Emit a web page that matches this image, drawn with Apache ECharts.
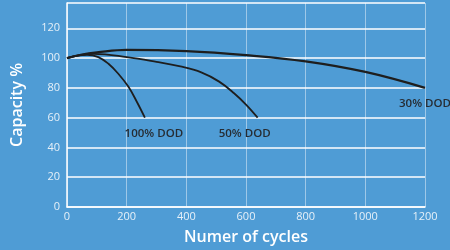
<!DOCTYPE html>
<html>
<head>
<meta charset="utf-8">
<script src="https://cdn.jsdelivr.net/npm/echarts@6/dist/echarts.min.js"></script>
<style>
  html, body { margin: 0; padding: 0; background: #4f9cd5; }
  #chart { width: 450px; height: 250px; }
</style>
</head>
<body>
<div id="chart"></div>
<script>
/************************        Capacity vs cycles by depth of discharge        **************************/
var cycles100 = [0, 35, 67, 105, 139, 172, 206, 234, 261];
var cap100    = [100, 101.7, 102.2, 100.7, 96.2, 89.5, 80.7, 70.7, 60];

var cycles50 = [0, 90, 200, 300, 380, 450, 510, 560, 600, 639];
var cap50    = [100, 102.8, 100.7, 97.5, 94.4, 90.4, 84.2, 76.4, 68.8, 60];

var cycles30 = [0, 50, 100, 200, 400, 600, 800, 1000, 1200];
var cap30    = [100, 102.4, 103.8, 105.5, 104.7, 102, 97.8, 90.7, 80];

var seriesNames = ['100% DOD', '50% DOD', '30% DOD'];
var xTicks = [0, 200, 400, 600, 800, 1000, 1200];

function buildData(xs, ys, name, offset) {
    var out = [];
    for (var i = 0; i < xs.length; i++) {
        var item = { value: [xs[i], ys[i]] };
        if (i === xs.length - 1) {
            item.label = {
                show: true,
                formatter: name,
                position: 'bottom',
                distance: 10,
                offset: offset,
                color: '#262c33',
                fontSize: 11.5,
                fontWeight: 600,
                fontFamily: 'Open Sans'
            };
        }
        out.push(item);
    }
    return out;
}

function curve(name, xs, ys, width, offset) {
    return {
        name: name,
        type: 'line',
        smooth: 0.4,
        symbol: 'circle',
        symbolSize: 0.1,
        showSymbol: true,
        lineStyle: { color: '#1e1e1e', width: width },
        data: buildData(xs, ys, name, offset)
    };
}

var dom = document.getElementById('chart');
var myChart = echarts.init(dom);
var option = {
    backgroundColor: '#4f9cd5',
    animation: false,
    grid: {
        left: 67,
        right: 25,
        top: 3,
        bottom: 40
    },
    xAxis: {
        type: 'value',
        min: 0,
        max: 1200,
        interval: 200,
        name: 'Numer of cycles',
        nameLocation: 'middle',
        nameGap: 22,
        nameTextStyle: { color: '#ffffff', fontSize: 16, fontWeight: 600, fontFamily: 'Open Sans' },
        axisLine: { lineStyle: { color: '#ffffff', width: 1.5 } },
        axisTick: { show: false },
        axisLabel: {
            color: '#e6f0f8', fontSize: 11, fontFamily: 'Open Sans', margin: 4,
            formatter: function (v) { return xTicks.indexOf(v) >= 0 ? String(v) : ''; }
        },
        splitLine: { show: true, lineStyle: { color: 'rgba(255,255,255,0.45)', width: 1 } }
    },
    yAxis: {
        type: 'value',
        min: 0,
        max: 137,
        interval: 20,
        name: 'Capacity %',
        nameLocation: 'middle',
        nameGap: 42,
        nameTextStyle: { color: '#ffffff', fontSize: 16, fontWeight: 600, fontFamily: 'Open Sans' },
        axisLine: { show: true, lineStyle: { color: '#ffffff', width: 1.5 } },
        axisTick: { show: false },
        axisLabel: { color: '#e6f0f8', fontSize: 11, fontFamily: 'Open Sans', margin: 7, showMaxLabel: false },
        splitLine: { show: true, lineStyle: { color: '#ffffff', width: 1.5 } }
    },
    series: [
        curve(seriesNames[0], cycles100, cap100, 1.8, [9, 0]),
        curve(seriesNames[1], cycles50, cap50, 1.8, [-13, 0]),
        curve(seriesNames[2], cycles30, cap30, 2.2, [0, 0])
    ]
};
myChart.setOption(option);
</script>
</body>
</html>
